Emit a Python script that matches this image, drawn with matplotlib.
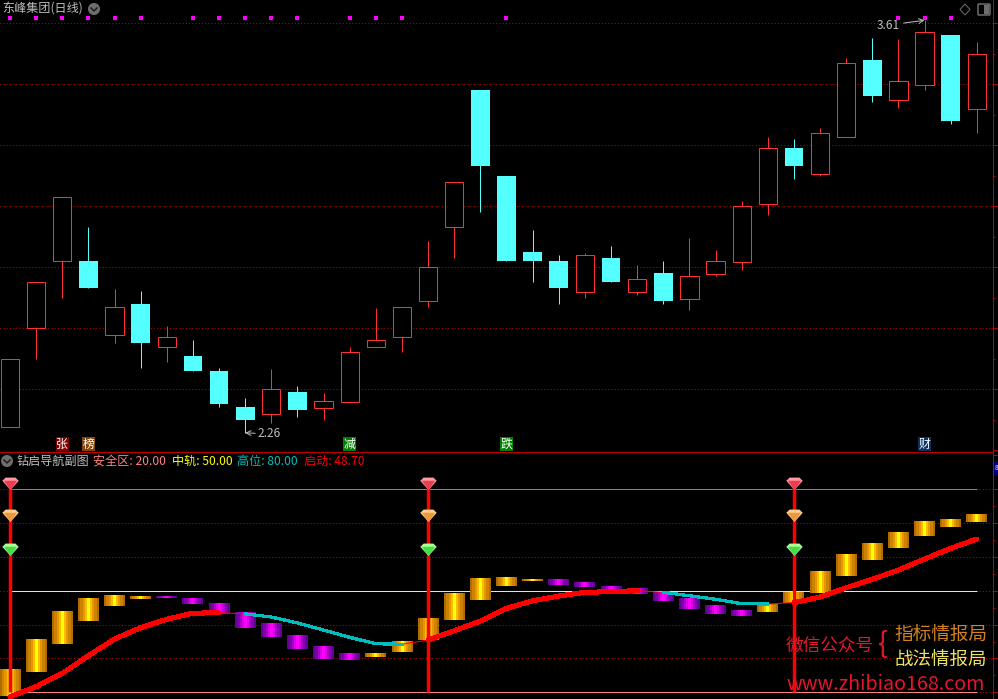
import numpy as np
import matplotlib
matplotlib.use('Agg')
import matplotlib.pyplot as plt
from matplotlib.path import Path
from matplotlib.patches import Circle, Rectangle, FancyBboxPatch, Polygon

plt.rcParams['font.family'] = ['Noto Sans CJK SC', 'DejaVu Sans']

# daily candles
opens = [2.276, 2.601, 2.821, 2.821, 2.578, 2.680, 2.539, 2.509, 2.460, 2.342, 2.319, 2.391, 2.339,
         2.358, 2.539, 2.571, 2.689, 2.932, 3.381, 3.099, 2.850, 2.821, 2.719, 2.830, 2.719, 2.781,
         2.696, 2.778, 2.817, 3.008, 3.191, 3.106, 3.227, 3.480, 3.349, 3.398, 3.562, 3.319]
closes = [2.499, 2.752, 3.030, 2.732, 2.670, 2.552, 2.571, 2.460, 2.352, 2.299, 2.401, 2.332, 2.362,
          2.522, 2.562, 2.670, 2.801, 3.080, 3.132, 2.821, 2.821, 2.732, 2.840, 2.752, 2.762, 2.689,
          2.771, 2.821, 3.001, 3.191, 3.132, 3.240, 3.470, 3.362, 3.411, 3.572, 3.280, 3.499]
highs = [2.499, 2.752, 3.030, 2.932, 2.729, 2.722, 2.607, 2.562, 2.470, 2.371, 2.466, 2.411, 2.388,
         2.539, 2.667, 2.670, 2.886, 3.080, 3.381, 3.099, 2.922, 2.840, 2.847, 2.870, 2.807, 2.821,
         2.896, 2.857, 3.017, 3.227, 3.221, 3.257, 3.486, 3.552, 3.549, 3.610, 3.562, 3.539]
lows = [2.276, 2.499, 2.699, 2.732, 2.552, 2.470, 2.489, 2.460, 2.342, 2.257, 2.289, 2.309, 2.299,
        2.358, 2.539, 2.522, 2.670, 2.830, 2.981, 2.821, 2.752, 2.680, 2.699, 2.752, 2.709, 2.680,
        2.660, 2.771, 2.791, 2.971, 3.090, 3.099, 3.227, 3.342, 3.322, 3.381, 3.270, 3.240]

# magenta signal row across the top
dot_idx = [0, 1, 2, 3, 4, 5, 7, 8, 9, 10, 11, 13, 14, 15, 19, 34, 35, 36]
dot_level = 3.617

tag_idx = [2, 3, 13, 19, 35]
tag_text = ['张', '榜', '减', '跌', '财']
tag_color = ['#800000', '#82460a', '#008000', '#008000', '#0a3264']
tag_level = 2.22

price_grid = [2.4, 2.6, 2.8, 3.0, 3.2, 3.4, 3.6]

# lower pane
line_vals = [18.7, 21.65, 25.6, 30.8, 35.75, 39.1, 41.6, 43.4, 43.5, 43.2, 42.25, 40.5, 38.4,
             36.25, 34.35, 34.2, 35.45, 38.2, 41.05, 44.8, 47.05, 48.45, 49.55, 49.75, 50.05, 49.55,
             48.55, 47.5, 46.2, 46.1, 46.5, 48.15, 50.9, 53.4, 56.15, 59.4, 62.55, 65.3]
bar_open = [18.9, 26.0, 34.27, 41.07, 45.51, 47.58, 48.17, 47.87, 46.1, 43.44, 40.19, 36.93, 33.68,
            31.32, 30.43, 31.91, 35.46, 41.37, 47.28, 51.42, 52.9, 53.19, 52.31, 51.42, 50.53, 49.35,
            47.58, 45.51, 44.03, 43.73, 46.39, 49.35, 54.37, 59.1, 62.65, 66.2, 68.86, 70.34]
bar_close = [26.88, 35.75, 43.73, 47.58, 48.76, 48.46, 47.87, 46.1, 43.14, 39.0, 36.34, 32.8, 29.84,
             29.54, 31.61, 35.16, 41.96, 49.35, 53.78, 54.08, 53.49, 51.71, 51.12, 50.24, 49.05, 46.98,
             44.62, 43.14, 42.55, 45.8, 49.35, 55.56, 60.58, 63.83, 67.09, 70.63, 70.93, 72.41]

thick_spans = [(0, 8), (16, 24), (30, 37)]
thin_spans = [(8, 9), (15, 16), (24, 25), (29, 30)]
teal_spans = [(9, 15), (25, 29)]

signal_idx = [0, 16, 30]
gem_levels = [82.2, 72.7, 62.7]
gem_light = ['#ff9aa0', '#ffd28c', '#aaff96']
gem_core = ['#f03c50', '#f0963c', '#46dc46']

levels = [20, 50, 80]
level_colors = ['#ff8080', '#ffff00', '#00bebe']
sub_grid = [20, 30, 40, 50, 60, 70, 80]

RED = '#ff3232'
CYAN = '#54ffff'
GRID = '#c80000'
AXIS = '#c00000'
GRAY = '#bebebe'
WATER = '#e6142d'
DOT = (0, (1, 2.2))
PX = 0.72

W, H = 998, 699
XLIM = (-0.383, 37.619)
fig = plt.figure(figsize=(W / 100, H / 100), dpi=100, facecolor='black')
ax = fig.add_axes([0, (H - 452) / H, 993 / W, 452 / H], facecolor='black')
sub = fig.add_axes([0, 0, 993 / W, 247 / H], facecolor='black')
# pixel overlay for the window furniture, not data
deco = fig.add_axes([0, 0, 1, 1], facecolor='none')
deco.set_xlim(0, W)
deco.set_ylim(H, 0)
deco.axis('off')

x = np.arange(len(opens))
opens = np.array(opens)
closes = np.array(closes)
up = closes >= opens

# top pane
ax.hlines(price_grid, XLIM[0], XLIM[1], colors=GRID, linewidth=PX, linestyles=DOT, zorder=1)
ax.vlines(x[up], np.array(lows)[up], np.array(highs)[up], colors=RED, linewidth=PX, zorder=2)
ax.vlines(x[~up], np.array(lows)[~up], np.array(highs)[~up], colors=CYAN, linewidth=PX, zorder=2)
ax.bar(x[up], (closes - opens)[up], 0.7, opens[up], facecolor='black', edgecolor=RED, linewidth=PX, zorder=3)
ax.bar(x[~up], (closes - opens)[~up], 0.72, opens[~up], facecolor=CYAN, edgecolor='none', zorder=3)
ax.plot(dot_idx, [dot_level] * len(dot_idx), ls='none', marker='s', ms=3, color='#ff00ff', mew=0, zorder=4)

for i, s, c in zip(tag_idx, tag_text, tag_color):
    ax.text(i, tag_level, s, color='white', fontsize=8.6, ha='center', va='center', zorder=5,
            bbox=dict(boxstyle='square,pad=0.03', facecolor=c, edgecolor='none'))

ax.annotate('3.61', xy=(35, 3.61), xytext=(-18, -3.6), textcoords='offset points', color=GRAY, fontsize=8.6,
            ha='right', va='center', arrowprops=dict(arrowstyle='->', color=GRAY, lw=PX, shrinkA=1, shrinkB=0))
ax.annotate('2.26', xy=(9, 2.257), xytext=(9.2, -0.7), textcoords='offset points', color=GRAY, fontsize=8.6,
            ha='left', va='center', arrowprops=dict(arrowstyle='->', color=GRAY, lw=PX, shrinkA=0, shrinkB=0))

# lower pane
sub.hlines(sub_grid, XLIM[0], XLIM[1], colors=GRID, linewidth=PX, linestyles=DOT, zorder=1)
sub.hlines(levels, 0, x[-1], colors=level_colors, linewidth=PX, zorder=2)

gold = np.array([[(176, 108, 0), (205, 130, 0), (232, 150, 0), (250, 190, 0), (255, 255, 0),
                  (250, 190, 0), (232, 150, 0), (205, 130, 0), (176, 108, 0)]], dtype=np.uint8)
purple = np.array([[(95, 0, 150), (125, 0, 170), (165, 0, 195), (215, 0, 230), (255, 0, 255),
                    (215, 0, 230), (165, 0, 195), (125, 0, 170), (95, 0, 150)]], dtype=np.uint8)
for i in x:
    lo, hi = sorted([bar_open[i], bar_close[i]])
    sub.imshow(gold if bar_close[i] > bar_open[i] else purple, aspect='auto', interpolation='nearest',
               extent=(i - 0.4, i + 0.4, lo, hi), zorder=3)

for a, b in thick_spans:
    sub.plot(x[a:b + 1], line_vals[a:b + 1], color='#ff0000', lw=2.9, antialiased=False, zorder=5,
             solid_capstyle='round')
for a, b in thin_spans:
    sub.plot(x[a:b + 1], line_vals[a:b + 1], color='#ff0000', lw=PX, zorder=5)
for a, b in teal_spans:
    sub.plot(x[a:b + 1], line_vals[a:b + 1], color='#00bebe', lw=1.6, antialiased=False, zorder=5)

sub.vlines(signal_idx, 20, gem_levels[0], colors='#ff0000', linewidth=2.5, zorder=6)

gem = Path([(-0.6, 0.6), (0.6, 0.6), (1, 0.2), (0, -0.9), (-1, 0.2), (-0.6, 0.6)], closed=True)
gem_in = Path([(-0.6, 0.25), (0.6, 0.25), (0, -0.6), (-0.6, 0.25)], closed=True)
for lev, light, core in zip(gem_levels, gem_light, gem_core):
    sub.plot(signal_idx, [lev] * 3, ls='none', marker=gem, ms=11.8, mfc=light, mec='none', zorder=7)
    sub.plot(signal_idx, [lev - 0.3] * 3, ls='none', marker=gem_in, ms=9.5, mfc=core, mec='none', zorder=8)

for a, major, minor in [(ax, np.arange(2.2, 3.7, 0.2), np.arange(2.3, 3.6, 0.2)),
                        (sub, np.arange(20, 91, 10), np.arange(25, 90, 10))]:
    for name in ['left', 'top', 'bottom']:
        a.spines[name].set_visible(False)
    a.spines['right'].set_color(AXIS)
    a.spines['right'].set_linewidth(PX)
    a.set_xticks([])
    a.yaxis.tick_right()
    a.set_yticks(major)
    a.set_yticks(minor, minor=True)
    a.tick_params(axis='y', which='major', colors=AXIS, length=2.6, width=PX, labelright=False)
    a.tick_params(axis='y', which='minor', colors=AXIS, length=1.6, width=PX, labelright=False)
# separator belongs to the lower pane, its background would paint over the upper one
sub.spines['top'].set_visible(True)
sub.spines['top'].set_color(AXIS)
sub.spines['top'].set_linewidth(PX)

# set_yticks widens the view, so the limits come last
ax.set_xlim(XLIM)
ax.set_ylim(3.6764 - 0.003279 * 452, 3.6764)
sub.set_xlim(XLIM)
sub.set_ylim(20 - 6.7 / 3.383, 20 + 240.3 / 3.383)


def label(px, py, s, color, size=8.7, **kw):
    deco.text(px, py, s, color=color, fontsize=size, va='center', **kw)


def chevron_icon(cx, cy):
    deco.add_patch(Circle((cx, cy), 6, facecolor='#6e6e6e', edgecolor='none'))
    deco.plot([cx - 3, cx, cx + 3], [cy - 1, cy + 2, cy - 1], color='#1e1e1e', lw=1.1)


label(2, 9.5, '东峰集团(日线)', GRAY)
chevron_icon(94, 9)
chevron_icon(7, 461)
label(17, 461, '钻启导航副图', GRAY)
label(93, 461, '安全区: 20.00', '#ff8080')
label(172, 461, '中轨: 50.00', '#ffff00')
label(237, 461, '高位: 80.00', '#00bebe')
label(304, 461, '启动: 48.70', '#ff0000')

# top right window buttons
deco.add_patch(Polygon([(965, 4), (970, 9.5), (965, 15), (960, 9.5)], closed=True, fill=False,
                       edgecolor='#6e6e6e', lw=PX))
deco.add_patch(FancyBboxPatch((979, 5), 10, 9, boxstyle='round,pad=1', fill=False, edgecolor='#6e6e6e', lw=1.1))
deco.add_patch(Rectangle((984, 5), 5, 9, facecolor='#6e6e6e', edgecolor='none'))

# value flag on the right edge
deco.add_patch(Rectangle((994.5, 461), 3.5, 14, facecolor='#000080', edgecolor='none'))
label(994.6, 467.5, '8', 'white', size=4.8)

# watermark
label(786, 647, '微信公众号', WATER, size=12.7)
label(878, 645, '{', WATER, size=21)
label(894, 635, '指标情报局', '#d2821e', size=13.4)
label(895, 661, '战法情报局', '#e6e664', size=13.3)
label(786, 684, 'www.zhibiao168.com', WATER, size=14.2)

fig.savefig('out.png', dpi=100, facecolor='black')
